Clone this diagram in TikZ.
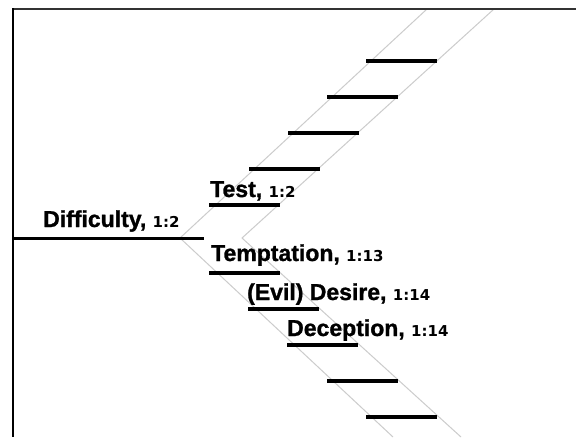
\documentclass[tikz,border=0pt]{standalone}
\usepackage{fontspec}
\setmainfont{Liberation Sans}[BoldFeatures={FakeBold=1.2}]
\newfontfamily\numfont{DejaVu Sans}
\newcommand\refnum[1]{{\numfont\bfseries\fontsize{15}{16}\selectfont #1}}
\begin{document}
\begin{tikzpicture}[x=1pt,y=-1pt,
  lbl/.style={inner sep=0pt, anchor=base west, font=\fontsize{23}{25}\selectfont\bfseries},
  bar/.style={line width=4pt},
  guide/.style={draw=black!20, line width=1pt},
  frame/.style={line width=2.5pt}
]
\useasboundingbox (0,0) rectangle (576,437);
\fill[white] (0,0) rectangle (576,437);
% guide lines
\coordinate (lt) at (427,9);
\coordinate (lv) at (180,238);
\coordinate (lb) at (393,437);
\coordinate (rt) at (494,9);
\coordinate (rv) at (242,238);
\coordinate (rb) at (461,437);
\draw[guide] (lt) -- (lv) -- (lb);
\draw[guide] (rt) -- (rv) -- (rb);
% frame
\draw[line width=2pt, draw=black!80] (12,9) -- (576,9);
\draw[frame] (13,8) -- (13,437);
% difficulty line
\draw[line width=3pt] (13,238) -- (204,238);
% upper bars
\foreach \x/\y in {366/60.5,327/97,288/133,249/169,209/205}
  \draw[bar] (\x,\y) -- ++(71,0);
% lower bars
\foreach \x/\y in {209/273,248/309,287/345,327/380.5,366/416.5}
  \draw[bar] (\x,\y) -- ++(71,0);
% labels
\node[lbl] (diff) at (43,227) {Difficulty, \refnum{1:2}};
\node[lbl] (test) at (210,197) {Test, \refnum{1:2}};
\node[lbl] (tempt) at (211,261) {Temptation, \refnum{1:13}};
\node[lbl] (desire) at (247,300) {(Evil) Desire, \refnum{1:14}};
\node[lbl] (decep) at (287,336) {Deception, \refnum{1:14}};
\end{tikzpicture}
\end{document}
